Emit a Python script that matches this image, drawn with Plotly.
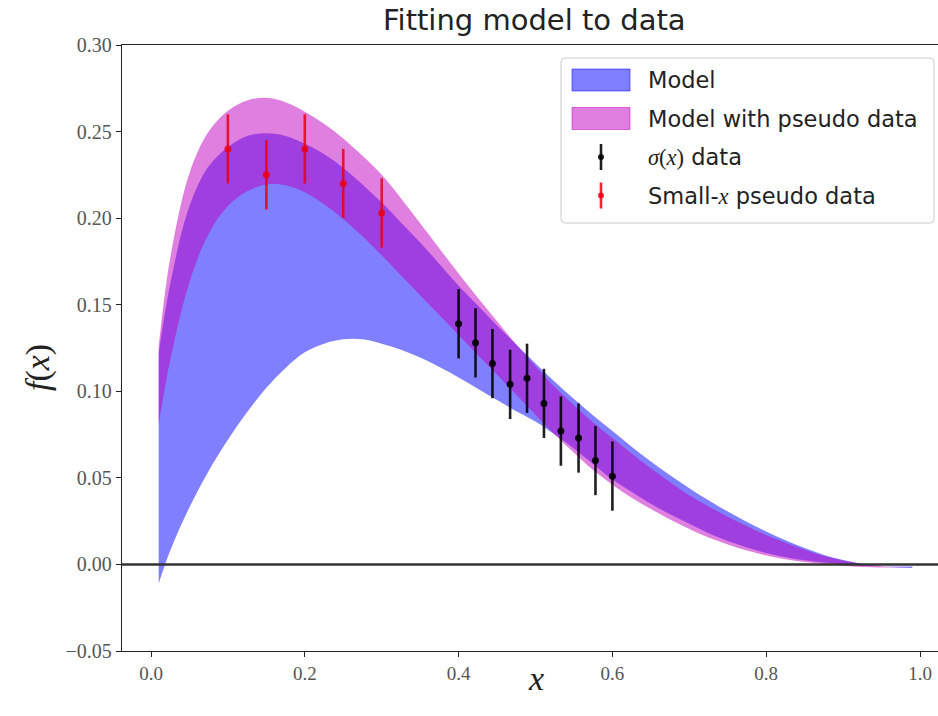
import plotly.graph_objects as go

# Sample points of the fitted bands
band_x = [0.01, 0.025, 0.05, 0.075, 0.1, 0.125, 0.15, 0.175, 0.2, 0.225, 0.25, 0.275,
          0.3, 0.325, 0.35, 0.375, 0.4, 0.425, 0.45, 0.475, 0.5, 0.525, 0.55, 0.575,
          0.6, 0.625, 0.65, 0.675, 0.7, 0.725, 0.75, 0.775, 0.8, 0.825, 0.85, 0.875,
          0.9, 0.925, 0.95, 0.975, 0.99]
model_lo = [-0.011, 0.008, 0.033, 0.054, 0.072, 0.088, 0.102, 0.1135, 0.1225, 0.1275,
            0.13, 0.13, 0.1275, 0.124, 0.1195, 0.114, 0.108, 0.1015, 0.095, 0.0885,
            0.0825, 0.075, 0.067, 0.058, 0.049, 0.042, 0.035, 0.029, 0.0235, 0.018,
            0.0135, 0.0098, 0.0066, 0.0042, 0.0024, 0.0011, 0.0002, -0.0005, -0.001,
            -0.0012, -0.0012]
model_hi = [0.122, 0.162, 0.207, 0.230, 0.241, 0.2475, 0.249, 0.2475, 0.243, 0.237,
            0.229, 0.2195, 0.209, 0.1975, 0.186, 0.1735, 0.161, 0.1495, 0.138, 0.127,
            0.116, 0.1055, 0.0955, 0.086, 0.077, 0.068, 0.0595, 0.0515, 0.044, 0.037,
            0.0305, 0.0245, 0.019, 0.014, 0.0095, 0.0055, 0.0025, 0.0003, -0.001,
            -0.0018, -0.002]
pseudo_lo = [0.081, 0.118, 0.163, 0.191, 0.207, 0.2155, 0.2195, 0.219, 0.215, 0.208,
             0.1995, 0.1895, 0.1785, 0.167, 0.1555, 0.144, 0.1325, 0.121, 0.1095, 0.098,
             0.0865, 0.075, 0.0645, 0.0545, 0.046, 0.0385, 0.032, 0.026, 0.0205, 0.0155,
             0.0115, 0.008, 0.0052, 0.003, 0.0014, 0.0002, -0.0008, -0.0015, -0.0018,
             -0.002, -0.002]
pseudo_hi = [0.126, 0.177, 0.226, 0.250, 0.262, 0.268, 0.2695, 0.267, 0.2615, 0.2545,
             0.246, 0.236, 0.225, 0.2115, 0.197, 0.1825, 0.168, 0.154, 0.1405, 0.127,
             0.1145, 0.1025, 0.092, 0.082, 0.073, 0.064, 0.0555, 0.0475, 0.04, 0.0335,
             0.0275, 0.022, 0.017, 0.0125, 0.0085, 0.005, 0.0022, 0.0003, -0.001,
             -0.0018, -0.002]

# sigma(x) measurements
sigma_x = [0.4, 0.422, 0.444, 0.467, 0.489, 0.511, 0.533, 0.556, 0.578, 0.6]
sigma_y = [0.139, 0.128, 0.116, 0.104, 0.1075, 0.093, 0.077, 0.073, 0.060, 0.051]
sigma_err = [0.02] * 10

# small-x pseudo data
pseudo_x = [0.1, 0.15, 0.2, 0.25, 0.3]
pseudo_y = [0.24, 0.225, 0.24, 0.22, 0.203]
pseudo_err = [0.02] * 5

x_ticks = [0.0, 0.2, 0.4, 0.6, 0.8, 1.0]
y_ticks = [-0.05, 0.0, 0.05, 0.10, 0.15, 0.20, 0.25, 0.30]

BLUE = "rgba(0,0,255,0.5)"
MAGENTA = "rgba(191,0,191,0.5)"
BLACK = "rgba(0,0,0,0.88)"
RED = "rgba(235,0,20,0.85)"
SANS = "DejaVu Sans"
SERIF = "Liberation Serif"

W, H = 938, 716
PL, PR, PT, PB = 122, 938, 45, 651


def fx(px):
    return (px - PL) / (PR - PL)


def fy(py):
    return (PB - py) / (PB - PT)


fig = go.Figure()


def band(lo, hi, color):
    line = dict(width=0, shape="spline", smoothing=1.0)
    fig.add_trace(go.Scatter(x=band_x, y=lo, mode="lines", line=line,
                             showlegend=False, hoverinfo="skip"))
    fig.add_trace(go.Scatter(x=band_x, y=hi, mode="lines", line=line,
                             fill="tonexty", fillcolor=color, showlegend=False, hoverinfo="skip"))


band(model_lo, model_hi, BLUE)
band(pseudo_lo, pseudo_hi, MAGENTA)

fig.add_trace(go.Scatter(
    x=sigma_x, y=sigma_y, mode="markers", showlegend=False,
    marker=dict(color=BLACK, size=7),
    error_y=dict(type="data", array=sigma_err, color=BLACK, thickness=2.6, width=0)))
fig.add_trace(go.Scatter(
    x=pseudo_x, y=pseudo_y, mode="markers", showlegend=False,
    marker=dict(color=RED, size=7),
    error_y=dict(type="data", array=pseudo_err, color=RED, thickness=2.6, width=0)))

shapes = [
    # horizontal reference at zero
    dict(type="line", xref="paper", x0=0, x1=1, yref="y", y0=0, y1=0,
         line=dict(color="#333333", width=2.6), layer="above"),
]

# legend frame (rounded)
x0, x1, y0, y1 = fx(561), fx(934), fy(58), fy(223)
rx, ry = 4 / (PR - PL), 4 / (PB - PT)
shapes.append(dict(
    type="path", xref="paper", yref="paper",
    path=(f"M {x0+rx},{y0} L {x1-rx},{y0} Q {x1},{y0} {x1},{y0-ry} "
          f"L {x1},{y1+ry} Q {x1},{y1} {x1-rx},{y1} L {x0+rx},{y1} Q {x0},{y1} {x0},{y1+ry} "
          f"L {x0},{y0-ry} Q {x0},{y0} {x0+rx},{y0} Z"),
    fillcolor="rgba(255,255,255,0.85)", line=dict(color="#cccccc", width=1), layer="above"))

rows = [80, 118.5, 157, 195.5]
for py, col in zip(rows[:2], [BLUE, MAGENTA]):
    shapes.append(dict(type="rect", xref="paper", yref="paper",
                       x0=fx(572), x1=fx(630), y0=fy(py - 11), y1=fy(py + 11),
                       fillcolor=col, line=dict(color=col, width=1), layer="above"))
for py, col in zip(rows[2:], [BLACK, RED]):
    shapes.append(dict(type="line", xref="paper", yref="paper",
                       x0=fx(601), x1=fx(601), y0=fy(py - 13), y1=fy(py + 13),
                       line=dict(color=col, width=2.6), layer="above"))
    shapes.append(dict(type="circle", xref="paper", yref="paper",
                       x0=fx(598), x1=fx(604), y0=fy(py - 3), y1=fy(py + 3),
                       fillcolor=col, line=dict(color=col, width=0), layer="above"))

serif_span = f'<span style="font-family:{SERIF}">'
labels = [
    "Model",
    "Model with pseudo data",
    f"{serif_span}<i>σ</i>(<i>x</i>)</span> data",
    f"Small-{serif_span}<i>x</i></span> pseudo data",
]
annotations = []
for py, txt in zip(rows, labels):
    annotations.append(dict(xref="paper", yref="paper", x=fx(646), y=fy(py), text=txt,
                            showarrow=False, xanchor="left", yanchor="middle",
                            font=dict(family=SANS, size=22.5, color="#222222")))

annotations += [
    dict(xref="paper", yref="paper", x=fx(534), y=fy(20), text="Fitting model to data",
         showarrow=False, xanchor="center", yanchor="middle",
         font=dict(family=SANS, size=29, color="#222222")),
    dict(xref="paper", yref="paper", x=fx(536), y=fy(679), text="<i>x</i>",
         showarrow=False, xanchor="center", yanchor="middle",
         font=dict(family=SERIF, size=34, color="#222222")),
    dict(xref="paper", yref="paper", x=fx(38), y=fy(368), text="<i>f</i>(<i>x</i>)",
         showarrow=False, xanchor="center", yanchor="middle", textangle=-90,
         font=dict(family=SERIF, size=34, color="#222222")),
]

fig.update_layout(
    width=W, height=H,
    margin=dict(l=PL, r=W - PR, t=PT, b=H - PB, pad=0),
    plot_bgcolor="white", paper_bgcolor="white",
    shapes=shapes, annotations=annotations,
    showlegend=False,
    xaxis=dict(range=[(PL - 151) / 769, (PR - 151) / 769], tickvals=x_ticks, tickformat=".1f",
               showgrid=False, zeroline=False, showline=True, mirror=True,
               linecolor="#222222", linewidth=1.4, ticks="outside", ticklen=5,
               tickwidth=1.3, tickcolor="#222222",
               tickfont=dict(family=SERIF, size=19, color="#555555")),
    yaxis=dict(range=[-0.05, 0.30], tickvals=y_ticks, tickformat=".2f",
               showgrid=False, zeroline=False, showline=True, mirror=False,
               linecolor="#222222", linewidth=1.4, ticks="outside", ticklen=5,
               tickwidth=1.3, tickcolor="#222222",
               tickfont=dict(family=SERIF, size=20, color="#555555")),
)

fig.write_html("out.html")
